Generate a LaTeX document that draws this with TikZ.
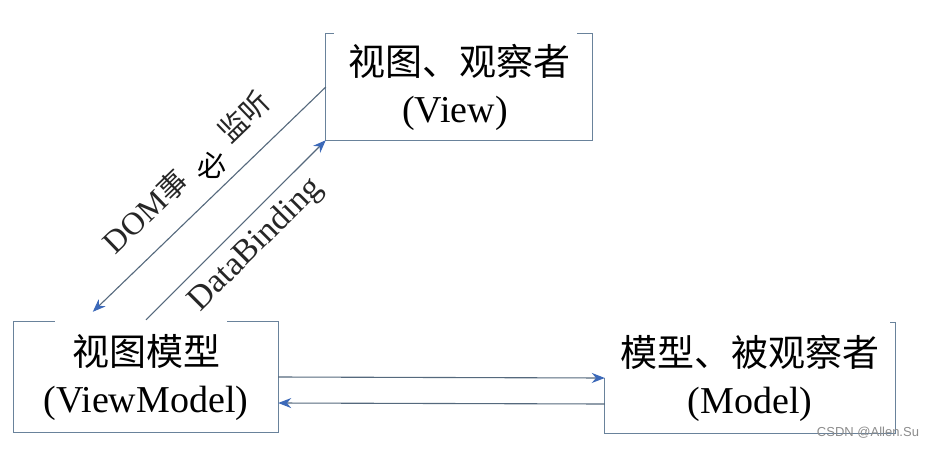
\documentclass[tikz,border=0pt]{standalone}
\usepackage{fontspec}
\setmainfont{Liberation Serif}
\newfontfamily\cjk{Noto Sans CJK SC}
\newfontfamily\wmfont{Liberation Sans}
\usetikzlibrary{arrows.meta,calc}
\definecolor{edgec}{RGB}{85,105,125}
\definecolor{boxc}{RGB}{105,130,155}
\definecolor{tipc}{RGB}{60,105,185}
\tikzset{
  boxnode/.style={inner sep=0pt, align=center, font=\fontsize{38}{47}\selectfont},
  frame/.style={draw=boxc, line width=1.2pt},
  conn/.style={draw=edgec, line width=1.1pt, -{Stealth[length=13pt,width=10pt,color=tipc]}},
  diaglabel/.style={font=\fontsize{32}{36}\selectfont, text=black!85, inner sep=0pt}
}
\begin{document}
\begin{tikzpicture}[x=1pt,y=-1pt]
\useasboundingbox (0,0) rectangle (930,448);
\fill[white] (0,0) rectangle (930,448);
% box nodes (invisible, sized)
\node[boxnode, minimum width=266pt, minimum height=106pt] (view) at (459,87)
  {{\cjk\fontsize{37}{46}\selectfont 视图、观察者}\\\hspace*{-8pt}(View)};
\node[boxnode, minimum width=264pt, minimum height=110pt] (vm) at (146,377)
  {{\cjk\fontsize{37}{46}\selectfont 视图模型}\\(ViewModel)};
\node[boxnode, minimum width=290pt, minimum height=110pt] (model) at (750,378)
  {{\cjk\fontsize{37}{46}\selectfont 模型、被观察者}\\(Model)};
% bracket frames
\draw[frame] ([xshift=8pt]view.north west) -- (view.north west) -- (view.south west)
  -- (view.south east) -- (view.north east) -- ([xshift=-15pt]view.north east);
\draw[frame] ([xshift=41pt]vm.north west) -- (vm.north west) -- (vm.south west)
  -- (vm.south east) -- (vm.north east) -- ([xshift=-51pt]vm.north east);
\draw[frame] (model.west) -- (model.south west) -- (model.south east)
  -- (model.north east) -- ([xshift=-5pt]model.north east);
% connectors
\coordinate (domtip) at ($(vm.north west)+(79,-10)$);
\coordinate (dbstart) at ($(vm.north)+(0,-2)$);
\draw[conn] (view.west) -- (domtip);
\draw[conn] (dbstart) -- (view.south west);
\draw[conn] (vm.east) -- (model.west);
\draw[conn] ([yshift=-26pt]model.west) -- ([yshift=-26pt]vm.east);
% labels on diagonals
\node[diaglabel, rotate=44] (domlbl) at (193,179)
  {DOM{\cjk\fontsize{29}{34}\selectfont 事}\hspace{8pt}\rotatebox{-44}{\cjk\fontsize{29}{34}\selectfont\color{black}必}\hspace{8pt}{\cjk\fontsize{29}{34}\selectfont 监听}};
\node[diaglabel, font=\fontsize{34}{38}\selectfont, rotate=45] (dblbl) at (256,245) {DataBinding};
% watermark
\node[font=\wmfont\fontsize{13}{15}\selectfont, text=black!45, inner sep=0pt] (wm) at (868,433) {CSDN @Allen.Su};
\end{tikzpicture}
\end{document}
